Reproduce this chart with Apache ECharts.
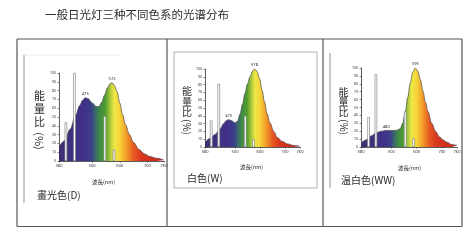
<!DOCTYPE html>
<html>
<head>
<meta charset="utf-8">
<script src="https://cdn.jsdelivr.net/npm/echarts@6/dist/echarts.min.js"></script>
<style>
  html, body { margin: 0; padding: 0; background: #fff; }
  #chart { width: 474px; height: 248px; }
</style>
</head>
<body>
<div id="chart"></div>
<script>
// 波长刻度 / 能量比刻度
const xTicks = [380, 400, 500, 600, 700, 760];
const yMin = 0, yMax = 100, yStep = 10;

// 畫光色(D)
const dLambda = [380, 400, 420, 440, 455, 465, 475, 485, 500, 515, 525, 535, 545, 555, 565, 572, 580, 590, 600, 610, 620, 635, 650, 670, 690, 710, 735, 760];
const dEnergy = [16, 23, 36, 52, 63, 69, 72, 71, 66, 62, 62, 67, 75, 83, 88, 89, 86, 79, 66, 53, 42, 30, 21, 13, 8, 5, 3, 1];
const dLines = [405, 436, 546, 579];
const dLineHeights = [44, 100, 51, 13];
const dPeaks = [475, 572];
const dPeakValues = [72, 89];

// 白色(W)
const wLambda = [380, 400, 420, 440, 455, 465, 475, 485, 500, 510, 520, 530, 540, 550, 560, 570, 578, 588, 598, 608, 618, 628, 640, 655, 670, 690, 710, 735, 760];
const wEnergy = [6, 11, 16, 23, 30, 34, 35, 34, 31, 33, 42, 55, 69, 81, 90, 97, 100, 97, 88, 73, 58, 43, 31, 20, 12, 7, 4, 2, 1];
const wLines = [405, 435, 541, 574];
const wLineHeights = [34, 81, 40, 10];
const wPeaks = [475, 578];
const wPeakValues = [35, 100];

// 温白色(WW)
const wwLambda = [380, 400, 420, 440, 460, 480, 500, 520, 535, 545, 555, 565, 575, 585, 595, 605, 615, 625, 635, 645, 660, 675, 690, 705, 720, 740, 760];
const wwEnergy = [5, 9, 14, 18, 20, 21, 21, 21, 23, 30, 44, 63, 81, 95, 100, 96, 85, 71, 57, 45, 30, 20, 13, 9, 6, 3, 2];
const wwLines = [410, 439, 555, 588];
const wwLineHeights = [38, 92, 45, 11];
const wwPeaks = [480, 595];
const wwPeakValues = [21, 100];

const panels = [
  { lambda: dLambda, energy: dEnergy, lines: dLines, heights: dLineHeights, peaks: dPeaks, peakValues: dPeakValues,
    grid: { left: 59, top: 73, width: 105, height: 88 } },
  { lambda: wLambda, energy: wEnergy, lines: wLines, heights: wLineHeights, peaks: wPeaks, peakValues: wPeakValues,
    grid: { left: 205, top: 69, width: 95, height: 78 } },
  { lambda: wwLambda, energy: wwEnergy, lines: wwLines, heights: wwLineHeights, peaks: wwPeaks, peakValues: wwPeakValues,
    grid: { left: 361, top: 68, width: 96, height: 79 } }
];

// 光谱色带 (380 -> 760 nm)
function spectrum() {
  const stops = [
    [380, "#3d2e70"], [470, "#41318a"], [498, "#3b3f88"], [512, "#3a6a6a"],
    [527, "#3f8a45"], [548, "#4f9c2e"], [565, "#a9c83a"], [580, "#ede845"],
    [600, "#f6d43a"], [625, "#f29a28"], [650, "#e65a22"], [680, "#d8361e"], [760, "#c9261c"]
  ];
  return new echarts.graphic.LinearGradient(0, 0, 1, 0,
    stops.map(([l, c]) => ({ offset: (l - 380) / 380, color: c })));
}

const axisColor = "#333";
const grids = [], xAxes = [], yAxes = [], series = [];

panels.forEach((p, i) => {
  grids.push(Object.assign({ containLabel: false }, p.grid));
  xAxes.push({
    type: "value", gridIndex: i, min: 380, max: 760,
    axisLine: { show: true, lineStyle: { color: axisColor, width: 0.8 } },
    axisTick: { show: true, length: 1.5, customValues: xTicks, lineStyle: { color: axisColor, width: 0.6 } },
    axisLabel: { customValues: xTicks, fontSize: 4, margin: 2.5, color: axisColor,
      showMinLabel: true, showMaxLabel: true, hideOverlap: false },
    splitLine: { show: false }
  });
  yAxes.push({
    type: "value", gridIndex: i, min: yMin, max: yMax, interval: yStep,
    axisLine: { show: true, lineStyle: { color: axisColor, width: 0.8 } },
    axisTick: { show: true, length: 1.5, lineStyle: { color: axisColor, width: 0.6 } },
    axisLabel: { fontSize: 3.5, margin: 3, color: axisColor },
    splitLine: { show: false }
  });
  series.push({
    type: "line", xAxisIndex: i, yAxisIndex: i,
    data: p.lambda.map((l, k) => [l, p.energy[k]]),
    smooth: 0.35, smoothMonotone: "x", symbol: "none",
    lineStyle: { color: "#4a4a4a", width: 0.7 },
    areaStyle: { color: spectrum(), opacity: 1 },
    markPoint: {
      symbol: "circle", symbolSize: 0, silent: true,
      label: { show: true, position: "top", distance: 2, fontSize: 4, color: "#222", formatter: "{c}" },
      data: p.peaks.map((l, k) => ({ coord: [l, p.peakValues[k]], value: l }))
    },
    z: 2
  });
  series.push({
    type: "bar", xAxisIndex: i, yAxisIndex: i,
    data: p.lines.map((l, k) => [l, p.heights[k]]),
    barWidth: 2.6,
    itemStyle: { color: "#fff", borderColor: "#8a8a8a", borderWidth: 0.7 },
    z: 3
  });
});

const ink = "#2b2b2b";
function txt(x, y, s, size, align) {
  return {
    type: "text", x: x, y: y, silent: true,
    style: { text: s, fontSize: size, fill: ink, fontFamily: "Noto Sans CJK SC",
      align: align || "left", verticalAlign: "middle" }
  };
}
function yName(x, ys, size) {
  return [
    txt(x, ys[0], "能", size, "center"),
    txt(x, ys[1], "量", size, "center"),
    txt(x, ys[2], "比", size, "center"),
    { type: "text", x: x, y: ys[3], rotation: -Math.PI / 2, silent: true,
      style: { text: "(%)", fontSize: size, fill: ink, fontFamily: "Noto Sans CJK SC", align: "center", verticalAlign: "middle" } }
  ];
}
function line(x1, y1, x2, y2, color, w) {
  return { type: "line", silent: true, shape: { x1, y1, x2, y2 }, style: { stroke: color, lineWidth: w } };
}

const frame = "#555";
const graphic = [
  txt(45, 15, "一般日光灯三种不同色系的光谱分布", 11.5),
  // 表格
  line(17, 39, 462, 39, frame, 1.2),
  line(17, 226.5, 462, 226.5, frame, 1.2),
  line(17, 39, 17, 226.5, frame, 1.2),
  line(167, 39, 167, 226.5, frame, 1.2),
  line(323, 39, 323, 226.5, frame, 1.2),
  line(462, 39, 462, 226.5, frame, 1.2),
  // 扫描图边框
  line(24, 55, 24, 203, "#777", 0.8),
  line(24, 55, 120, 55, "#ddd", 0.6),
  { type: "rect", silent: true, shape: { x: 174, y: 52, width: 143, height: 136 },
    style: { fill: null, stroke: "#9a9a9a", lineWidth: 0.8 } },
  line(330, 53, 330, 188, "#777", 0.8),
  // 标签
  txt(37, 195, "畫光色(D)", 10),
  txt(187, 178, "白色(W)", 10),
  txt(341, 180, "温白色(WW)", 10),
  txt(92, 182, "波長(nm)", 5.5),
  txt(240, 167, "波長(nm)", 5.5),
  txt(398, 168, "波長(nm)", 5.5)
].concat(yName(39.5, [96, 109, 122, 141], 11))
 .concat(yName(187, [91, 102, 112, 127], 10))
 .concat(yName(343.5, [92, 102, 112, 127], 10));

const chart = echarts.init(document.getElementById("chart"), null, { renderer: "canvas" });
chart.setOption({
  animation: false,
  backgroundColor: "#fff",
  textStyle: { fontFamily: "Noto Sans, sans-serif" },
  grid: grids,
  xAxis: xAxes,
  yAxis: yAxes,
  series: series,
  graphic: graphic
});
</script>
</body>
</html>
